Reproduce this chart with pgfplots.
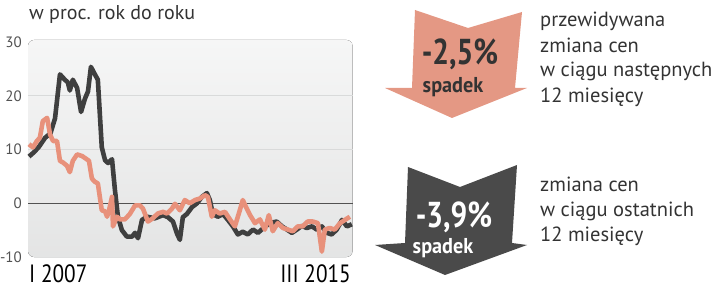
\documentclass[border=0pt]{standalone}
\usepackage{pgfplots}
\pgfplotsset{compat=1.18}
\usepackage{fontspec}
\setmainfont{PT Sans}
\definecolor{darkl}{HTML}{3F3F3F}
\definecolor{pinkl}{HTML}{E8917B}
\definecolor{pinka}{HTML}{E49884}
\definecolor{darka}{HTML}{4A4A4A}
\definecolor{txt}{HTML}{333333}
\definecolor{gridc}{HTML}{D2D3D3}
\begin{document}
\begin{tikzpicture}[x=1pt,y=1pt]
\useasboundingbox (0,0) rectangle (720,289);
\begin{axis}[
  at={(28pt,32pt)}, anchor=south west,
  scale only axis, width=324.5pt, height=217pt,
  xmin=-0.3, xmax=98.2, ymin=-10, ymax=30.4,
  axis line style={draw=none},
  clip=false,
  xtick=\empty,
  ytick={-10,0,10,20,30},
  yticklabels={-10,0,10,20,30},
  major tick length=0pt,
  yticklabel style={font=\fontsize{15}{15}\selectfont, text=txt!85!white, anchor=east, inner sep=0pt, xshift=-6pt},
]
\fill[top color=white!55!gridc!45!white, bottom color=gridc!60!white, rounded corners=6pt]
  (rel axis cs:0,0) rectangle (rel axis cs:1,1);
\draw[gridc!85!white, line width=1pt] (axis cs:-0.3,10) -- (axis cs:98.2,10);
\draw[gridc!85!white, line width=1pt] (axis cs:-0.3,20) -- (axis cs:98.2,20);
\draw[darkl!90!white, line width=1pt] (axis cs:-0.3,0) -- (axis cs:98.2,0);
\addplot[darkl, line width=4.6pt, line join=round] coordinates {
(0,8.7) (1.5,9.5) (3,10.5) (4.9,12.2) (6.5,13) (7.9,15.8) (9.4,24) (10.9,23) (11.8,22.5)
(12.4,21) (13.3,23) (14.6,21.5) (15.8,17) (17,19.5) (17.9,20.8) (18.8,25.4) (20,24)
(20.9,23) (22.1,10.4) (23.1,8) (24,7.5) (25.2,8.2) (26.1,2.4) (27,-2.5) (28.2,-5)
(29.7,-6.2) (31.3,-6.2) (32.2,-5.5) (33.1,-6.5) (34.3,-3.1) (35.8,-2.5) (38.2,-2.8)
(40.7,-2.2) (42.2,-2.6) (43.7,-3.4) (44.9,-5.6) (45.8,-6.8) (46.7,-2.6) (47.9,-2)
(49.5,-0.7) (51,0) (52.5,1.2) (54,1.9) (54.9,0.6) (55.8,-2) (57.3,-2.5) (58.9,-2)
(60.4,-3.1) (61.9,-4.3) (63.4,-5.8) (64.9,-5.3) (66.4,-5.8) (68,-4.9) (69.5,-5.5)
(71,-4.7) (73.1,-3.7) (75.2,-3.4) (76.8,-4.3) (78.3,-4.9) (79.8,-5.5) (81.3,-4.9)
(82.8,-4.2) (84.3,-4.6) (85.9,-4.3) (87.4,-4.9) (88.9,-4.3) (90.4,-5.5) (91.9,-5.8)
(93.4,-4.9) (95,-3.1) (96.5,-4.3) (98,-3.9)
};
\addplot[pinkl, line width=4.6pt, line join=round] coordinates {
(0,11) (1.2,10.4) (2.4,11.6) (3.3,12.2) (4.2,15.3) (5.5,15.9) (6.4,12.8) (7.3,11.6)
(8.5,11.6) (9.4,7.9) (10.3,7.6) (11.5,7) (12.4,5.8) (13.3,7.9) (14.6,9.1) (16.1,8.8)
(17.3,8.3) (18.2,7.9) (19.1,4.6) (20,4.0) (20.9,3.7) (22.1,-1.3) (23.1,-1.5) (23.7,-2.5)
(24.3,-1.3) (25.2,1.2) (25.5,-4.3) (26.7,-2.5) (27.6,-3) (29.1,-3) (30.6,-2) (32.2,-0.4)
(33.7,-0.4) (34.6,-1) (36.1,-3.4) (37.6,-2.8) (39.1,-1.9) (40.7,-1.6) (41.9,-1.9)
(43.4,-1) (44.3,-0.1) (45.8,-1.3) (47.3,0.6) (48.8,0) (50.4,0.6) (51.9,0.9) (53.4,1.5)
(54.3,1.2) (55.5,-2.5) (56.4,-1.3) (57.9,-1.9) (59.5,-1.6) (61,-3) (62.5,-4.3)
(63.7,-1.9) (64.9,0.6) (65.8,-0.6) (67.1,-2.2) (68.6,-3.7) (70.1,-3) (71.6,-4.9)
(72.8,-2.2) (74,-5.2) (75.5,-3.7) (77.1,-4.6) (78.6,-4.9) (80.1,-5.2) (81.6,-4.3)
(83.1,-4.3) (84.6,-3.4) (86.2,-3.4) (87.7,-3.7) (88.9,-9) (89.8,-4.9) (91.3,-4.6)
(92.8,-4.9) (94.4,-3.7) (95.9,-3.1) (97.4,-2.5)
};
\end{axis}
% title
\node[anchor=base west, inner sep=0pt, text=txt, font=\fontsize{20}{20}\selectfont] at (29,269) {w proc. rok do roku};
% x labels
\node[anchor=base west, inner sep=0pt, text=black, font=\fontsize{25}{25}\selectfont] at (29,6) {\scalebox{0.85}[1]{I 2007}};
\node[anchor=base east, inner sep=0pt, text=black, font=\fontsize{25}{25}\selectfont] at (351,6) {\scalebox{0.85}[1]{III 2015}};
% pink arrow
\fill[pinka] (415,279) -- (468,261) -- (522,277) -- (515,201) -- (527,201) -- (452,171) -- (385,201) -- (412,201) -- cycle;
\node[anchor=base, inner sep=0pt, text=txt, font=\bfseries\fontsize{36}{36}\selectfont] at (460,224) {\scalebox{0.82}[1]{-2,5\%}};
\node[anchor=base, inner sep=0pt, text=txt, font=\bfseries\fontsize{21.5}{21.5}\selectfont] at (453,196) {\scalebox{0.94}[1]{spadek}};
% dark arrow
\fill[darka] (408,122) -- (460,102) -- (517,124) -- (512,46) -- (527,44) -- (445,14) -- (375,44) -- (405,46) -- cycle;
\node[anchor=base, inner sep=0pt, text=white, font=\bfseries\fontsize{36}{36}\selectfont] at (454,61) {\scalebox{0.82}[1]{-3,9\%}};
\node[anchor=base, inner sep=0pt, text=white, font=\bfseries\fontsize{21.5}{21.5}\selectfont] at (443,35) {\scalebox{0.94}[1]{spadek}};
% right texts
\begin{scope}[every node/.style={anchor=base west, inner sep=0pt, text=txt, font=\fontsize{20.5}{20.5}\selectfont}]
\node at (540,262) {przewidywana};
\node at (540,236) {zmiana cen};
\node at (540,212) {w ciągu następnych};
\node at (540,186) {12 miesięcy};
\node at (540,97) {zmiana cen};
\node at (540,72) {w ciągu ostatnich};
\node at (540,47) {12 miesięcy};
\end{scope}
\end{tikzpicture}
\end{document}
